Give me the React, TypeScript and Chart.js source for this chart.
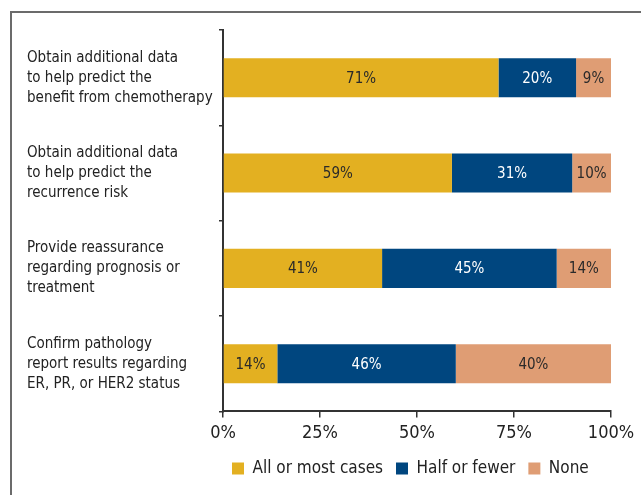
import React, { useEffect, useRef } from "react";
import { Chart, registerables } from "chart.js";

Chart.register(...registerables);

const categories: string[][] = [
  ["Obtain additional data", "to help predict the", "benefit from chemotherapy"],
  ["Obtain additional data", "to help predict the", "recurrence risk"],
  ["Provide reassurance", "regarding prognosis or", "treatment"],
  ["Confirm pathology", "report results regarding", "ER, PR, or HER2 status"],
];
const seriesNames = ["All or most cases", "Half or fewer", "None"];
const allOrMost = [71, 59, 41, 14];
const halfOrFewer = [20, 31, 45, 46];
const none = [9, 10, 14, 40];
const xTicks = [0, 25, 50, 75, 100];

const FONT = '"Liberation Sans Narrow", "DejaVu Sans Condensed", "Arial Narrow", sans-serif';
const colors = ["#E3B021", "#00467F", "#DF9D74"];
const labelColors = ["#2a2a2a", "#ffffff", "#2a2a2a"];

const valueLabels = {
  id: "valueLabels",
  afterDatasetsDraw(chart: any) {
    const ctx = chart.ctx;
    ctx.save();
    ctx.font = `15px ${FONT}`;
    ctx.textAlign = "center";
    ctx.textBaseline = "middle";
    chart.data.datasets.forEach((ds: any, di: number) => {
      const meta = chart.getDatasetMeta(di);
      meta.data.forEach((el: any, i: number) => {
        const c = el.getCenterPoint();
        ctx.fillStyle = labelColors[di];
        ctx.fillText(ds.data[i] + "%", c.x, c.y + 1);
      });
    });
    ctx.restore();
  },
};

const legendShift = {
  id: "legendShift",
  afterLayout(chart: any) {
    const lg = chart.legend;
    if (lg) {
      const pad = lg.options.labels.padding;
      const h = lg.height;
      lg.left = 232 - pad;
      lg.top = 467 - h / 2;
      lg.bottom = lg.top + h;
    }
  },
};

export default function App() {
  const ref = useRef<HTMLCanvasElement>(null);
  useEffect(() => {
    if (!ref.current) return;
    const chart = new Chart(ref.current, {
      type: "bar",
      data: {
        labels: categories,
        datasets: [allOrMost, halfOrFewer, none].map((d, i) => ({
          label: seriesNames[i],
          data: d,
          backgroundColor: colors[i],
          borderWidth: 0,
          barPercentage: 0.41,
          categoryPercentage: 1,
        })),
      },
      options: {
        indexAxis: "y",
        animation: false,
        responsive: false,
        maintainAspectRatio: false,
        layout: { padding: { left: 27, top: 30, right: 30, bottom: 6 } },
        scales: {
          x: {
            stacked: true,
            min: 0,
            max: 100,
            afterBuildTicks: (s: any) => {
              s.ticks = xTicks.map((v) => ({ value: v }));
            },
            ticks: {
              callback: (v: any) => v + "%",
              font: { family: FONT, size: 18 },
              color: "#222",
              padding: 5,
              maxRotation: 0,
            },
            grid: { drawOnChartArea: false, drawTicks: true, tickLength: 6, color: "#333", lineWidth: 1.5 },
            border: { display: true, color: "#333", width: 2 },
          },
          y: {
            stacked: true,
            afterFit: (s: any) => {
              s.width = 196;
              s.paddingTop = 0;
              s.paddingBottom = 0;
            },
            ticks: {
              crossAlign: "far",
              font: { family: FONT, size: 15, lineHeight: 1.33 },
              color: "#222",
              padding: 6,
            },
            grid: { drawOnChartArea: false, drawTicks: true, tickLength: 4, color: "#333", lineWidth: 1.5, offset: true },
            border: { display: true, color: "#333", width: 2 },
          },
        },
        plugins: {
          legend: {
            position: "bottom",
            align: "start",
            labels: {
              boxWidth: 12,
              boxHeight: 12,
              padding: 13,
              color: "#222",
              font: { family: FONT, size: 17 },
            },
          },
          tooltip: { enabled: false },
        },
      },
      plugins: [valueLabels, legendShift],
    } as any);
    return () => chart.destroy();
  }, []);
  return (
    <div style={{ position: "fixed", left: 0, top: 0, width: 641, height: 495, overflow: "hidden", background: "#fff" }}>
      <div
        style={{
          position: "absolute",
          left: 10,
          top: 11,
          width: 700,
          height: 600,
          border: "2px solid #6b6b6b",
          boxSizing: "border-box",
        }}
      />
      <canvas ref={ref} width={641} height={495} style={{ position: "absolute", left: 0, top: 0 }} />
    </div>
  );
}
